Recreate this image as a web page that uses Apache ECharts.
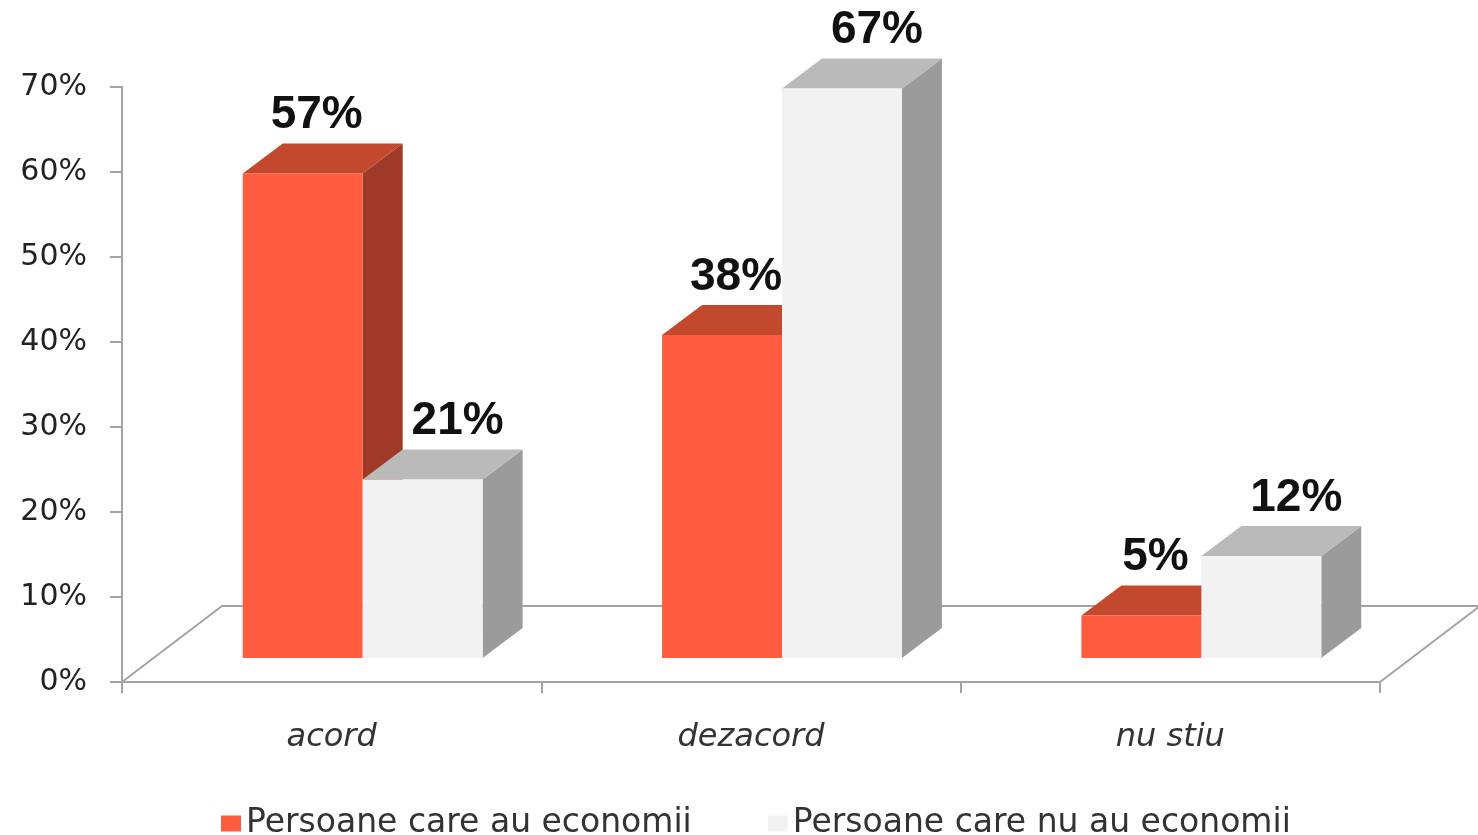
<!DOCTYPE html>
<html>
<head>
<meta charset="utf-8">
<script src="https://cdn.jsdelivr.net/npm/echarts@6/dist/echarts.min.js"></script>
<style>
  html, body { margin: 0; padding: 0; background: #fff; }
  #main { width: 1478px; height: 835px; }
</style>
</head>
<body>
<div id="main"></div>
<script type="text/javascript">
    // values (percent)
    var categories = ['acord', 'dezacord', 'nu stiu'];
    var savers = [57, 38, 5];
    var nonSavers = [21, 67, 12];
    var seriesNames = ['Persoane care au economii', 'Persoane care nu au economii'];

    // fake 3d: floor depth, bar offset into the floor, bar depth (px)
    var FLOOR_DEPTH = [100, -76];
    var BAR_SHIFT = [31, -24];
    var BAR_DEPTH = [40, -30];

    var redFaces = { front: '#FF5C40', top: '#C2482E', side: '#A03A28' };
    var greyFaces = { front: '#F2F2F2', top: '#BABABA', side: '#9B9B9B' };

    function floorRenderer(params, api) {
        var cs = params.coordSys;
        var fx = cs.x, fy = cs.y + cs.height, fw = cs.width;
        return {
            type: 'polygon',
            shape: { points: [[fx, fy], [fx + FLOOR_DEPTH[0], fy + FLOOR_DEPTH[1]],
                              [fx + fw + FLOOR_DEPTH[0], fy + FLOOR_DEPTH[1]], [fx + fw, fy]] },
            style: { fill: '#fff', stroke: '#a4a4a4', lineWidth: 2 }
        };
    }

    function barRenderer(side, faces, labelShift) {
        return function (params, api) {
            var idx = api.value(0), val = api.value(1);
            var base = api.coord([idx, 0]);
            var top = api.coord([idx, val]);
            var w = api.size([1, 0])[0] * 0.286;
            var x0 = base[0] + BAR_SHIFT[0] + (side < 0 ? -w : 0);
            var x1 = x0 + w;
            var yb = base[1] + BAR_SHIFT[1];
            var yt = top[1] + BAR_SHIFT[1];
            var dx = BAR_DEPTH[0], dy = BAR_DEPTH[1];
            return {
                type: 'group',
                children: [
                    { type: 'polygon', shape: { points: [[x1, yt], [x1 + dx, yt + dy], [x1 + dx, yb + dy], [x1, yb]] },
                      style: { fill: faces.side } },
                    { type: 'polygon', shape: { points: [[x0, yt], [x1, yt], [x1 + dx, yt + dy], [x0 + dx, yt + dy]] },
                      style: { fill: faces.top } },
                    { type: 'rect', shape: { x: x0, y: yt, width: w, height: yb - yt },
                      style: { fill: faces.front } },
                    { type: 'text', z2: 10,
                      style: { text: val + '%', x: (x0 + x1) / 2 + labelShift, y: yt - 58,
                               align: 'center', verticalAlign: 'middle',
                               fontSize: 46, fontWeight: 'bold', fontFamily: '"Liberation Sans", Arial',
                               fill: '#111' } }
                ]
            };
        };
    }

    var myChart = echarts.init(document.getElementById('main'));
    var option = {
        animation: false,
        grid: { left: 122, right: 98, top: 87, bottom: 153, containLabel: false, outerBoundsMode: 'none' },
        legend: {
            data: seriesNames,
            left: 216,
            top: 802,
            icon: 'rect',
            itemWidth: 20,
            itemHeight: 16,
            itemGap: 76,
            textStyle: { fontSize: 33, fontFamily: '"DejaVu Sans"', color: '#333' }
        },
        xAxis: {
            type: 'category',
            data: categories,
            axisLine: { show: true, lineStyle: { color: '#a4a4a4', width: 2 } },
            axisTick: { show: true, length: 11, lineStyle: { color: '#a4a4a4', width: 2 } },
            axisLabel: { margin: 40, fontSize: 32, fontStyle: 'italic', fontFamily: '"DejaVu Sans"', color: '#333' },
            splitLine: { show: false }
        },
        yAxis: {
            type: 'value',
            min: 0,
            max: 70,
            interval: 10,
            axisLine: { show: true, lineStyle: { color: '#a4a4a4', width: 2 } },
            axisTick: { show: true, length: 12, lineStyle: { color: '#a4a4a4', width: 2 } },
            axisLabel: { formatter: '{value}%', margin: 35, fontSize: 30, fontFamily: '"DejaVu Sans"', color: '#222' },
            splitLine: { show: false }
        },
        series: [
            {
                name: 'floor',
                type: 'custom',
                silent: true,
                z: 1,
                renderItem: floorRenderer,
                encode: { x: 0, y: 1 },
                data: [[0, 0]]
            },
            {
                name: seriesNames[0],
                type: 'custom',
                itemStyle: { color: redFaces.front },
                renderItem: barRenderer(-1, redFaces, 14),
                encode: { x: 0, y: 1 },
                data: savers.map(function (v, i) { return [i, v]; })
            },
            {
                name: seriesNames[1],
                type: 'custom',
                itemStyle: { color: greyFaces.front },
                renderItem: barRenderer(1, greyFaces, 35),
                encode: { x: 0, y: 1 },
                data: nonSavers.map(function (v, i) { return [i, v]; })
            }
        ]
    };
    myChart.setOption(option);
</script>
</body>
</html>
